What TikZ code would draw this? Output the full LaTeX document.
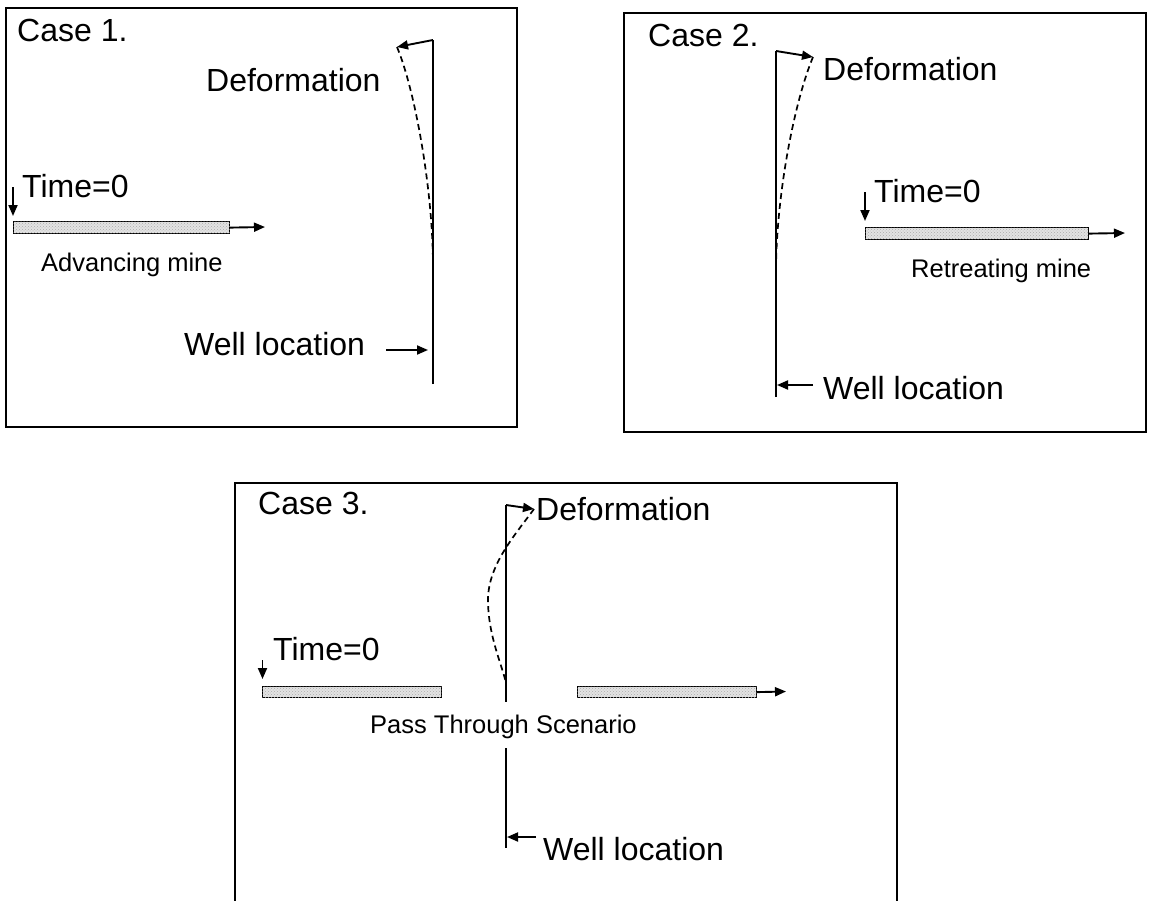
\documentclass[tikz,border=0pt]{standalone}
\usepackage{fontspec}
\setmainfont{Liberation Sans}
\usetikzlibrary{arrows.meta, patterns}

\tikzset{
  panel/.style={line width=1.6pt},
  bigtext/.style={inner sep=0pt, anchor=base west, font=\fontsize{32}{36}\selectfont},
  smalltext/.style={inner sep=0pt, anchor=base west, font=\fontsize{25.5}{30}\selectfont},
  mine/.style={draw, line width=1.2pt, inner sep=0pt, minimum height=12pt, anchor=north west,
    fill=gray!22, postaction={pattern=crosshatch dots, pattern color=gray!65}},
  well/.style={line width=2.1pt},
  arr/.style={line width=1.9pt, -{Triangle[length=11pt,width=9pt]}},
  bent/.style={line width=1.7pt, dash pattern=on 6pt off 4pt},
}

\begin{document}
\begin{tikzpicture}[x=1pt, y=-1pt]
  \useasboundingbox (0,0) rectangle (1149,900);

  % case 1: advancing mine
  \draw[panel] (6,8) rectangle (517,427);
  \node[bigtext] (caseA) at (17,41) {Case 1.};
  \node[bigtext] (defA) at (206,91) {Deformation};
  \node[bigtext] (timeA) at (22,197) {Time=0};
  \node[mine, minimum width=216pt] (mineA) at (13,221) {};
  \node[smalltext] (labA) at (41,271) {Advancing mine};
  \node[bigtext] (wellA) at (184,355) {Well location};
  \coordinate (wellAtop) at (433,40);
  \coordinate (wellAbot) at (433,384);
  \coordinate (defAtip) at (397,47);
  \coordinate (defAbase) at (433,267);
  \coordinate (timeAstart) at (13,187);
  \coordinate (timeAend) at (13,216);
  \coordinate (moveAend) at (265,227);
  \coordinate (wellAstart) at (386,350);
  \coordinate (wellAend) at (428,350);
  \draw[well] (wellAbot) -- (wellAtop);
  \draw[arr] (wellAtop) -- (defAtip);
  \draw[bent] (defAtip) .. controls (415,90) and (433,190) .. (defAbase);
  \draw[arr] (timeAstart) -- (timeAend);
  \draw[arr] (mineA.east) -- (moveAend);
  \draw[arr] (wellAstart) -- (wellAend);

  % case 2: retreating mine
  \draw[panel] (624,13) rectangle (1146,432);
  \node[bigtext] (caseB) at (648,46) {Case 2.};
  \node[bigtext] (defB) at (823,80) {Deformation};
  \node[bigtext] (timeB) at (874,202) {Time=0};
  \node[mine, minimum width=223pt] (mineB) at (865,227) {};
  \node[smalltext] (labB) at (911,277) {Retreating mine};
  \node[bigtext] (wellB) at (823,399) {Well location};
  \coordinate (wellBtop) at (776,51);
  \coordinate (wellBbot) at (776,397);
  \coordinate (defBtip) at (813,57);
  \coordinate (defBbase) at (776,267);
  \coordinate (timeBstart) at (865,192);
  \coordinate (timeBend) at (865,221);
  \coordinate (moveBend) at (1125,233);
  \coordinate (wellBstart) at (813,385);
  \coordinate (wellBend) at (777,385);
  \draw[well] (wellBbot) -- (wellBtop);
  \draw[arr] (wellBtop) -- (defBtip);
  \draw[bent] (defBtip) .. controls (795,100) and (777,190) .. (defBbase);
  \draw[arr] (timeBstart) -- (timeBend);
  \draw[arr] (mineB.east) -- (moveBend);
  \draw[arr] (wellBstart) -- (wellBend);

  % case 3: pass through
  \draw[panel] (235,905) -- (235,483) -- (897,483) -- (897,905);
  \node[bigtext] (caseC) at (258,514) {Case 3.};
  \node[bigtext] (defC) at (536,520) {Deformation};
  \node[bigtext] (timeC) at (273,660) {Time=0};
  \node[mine, minimum width=179pt, minimum height=11pt] (mineC1) at (262,686) {};
  \node[mine, minimum width=179pt, minimum height=11pt] (mineC2) at (577,686) {};
  \node[smalltext] (labC) at (370,733) {Pass Through Scenario};
  \node[bigtext] (wellC) at (543,860) {Well location};
  \coordinate (wellCtop) at (506,505);
  \coordinate (wellCgapA) at (506,702);
  \coordinate (wellCgapB) at (506,748);
  \coordinate (wellCbot) at (506,848);
  \coordinate (defCtip) at (534,509);
  \coordinate (defCbend) at (488,600);
  \coordinate (defCbase) at (506,683);
  \coordinate (timeCstart) at (262.5,660);
  \coordinate (timeCend) at (262.5,679);
  \coordinate (moveCend) at (786,691.5);
  \coordinate (wellCstart) at (536,837);
  \coordinate (wellCend) at (507,837);
  \draw[well] (wellCtop) -- (wellCgapA);
  \draw[well] (wellCgapB) -- (wellCbot);
  \draw[arr] (wellCtop) -- (defCtip);
  \draw[bent] (defCtip) .. controls (515,535) and (488,565) .. (defCbend)
    .. controls (488,635) and (502,665) .. (defCbase);
  \draw[arr] (timeCstart) -- (timeCend);
  \draw[arr] (mineC2.east) -- (moveCend);
  \draw[arr] (wellCstart) -- (wellCend);
\end{tikzpicture}
\end{document}
